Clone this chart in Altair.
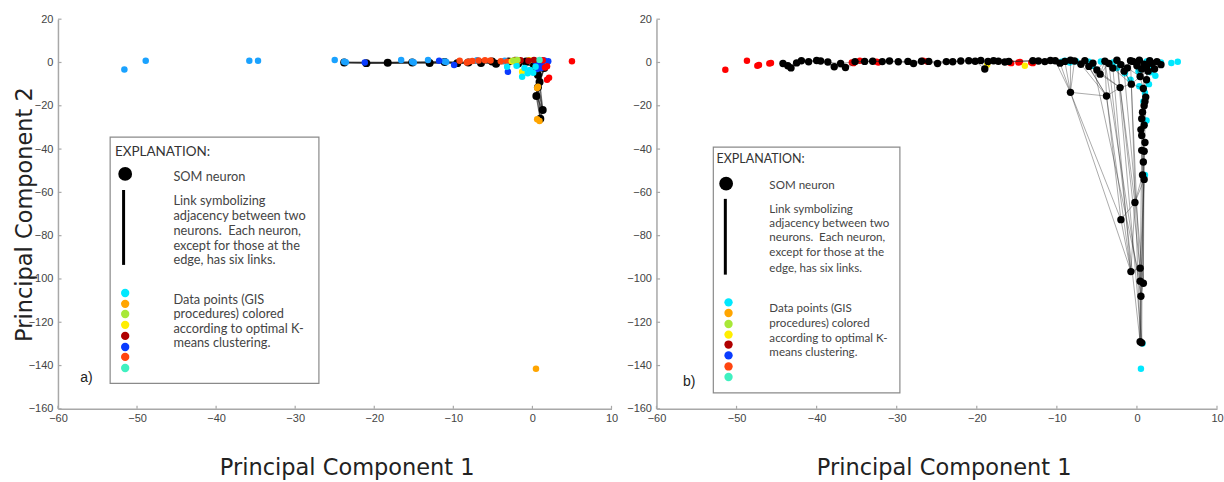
import altair as alt
import pandas as pd

# ---------------- axes ----------------
X_TICKS = [-60, -50, -40, -30, -20, -10, 0, 10]
Y_TICKS = [-160, -140, -120, -100, -80, -60, -40, -20, 0, 20]

CLUSTERS = ["cyan", "orange", "yellowgreen", "yellow", "darkred", "blue",
            "orangered", "aquamarine", "skyblue", "red"]
CLUSTER_COLORS = ["#00e8ff", "#ffa500", "#a8e838", "#ffee00", "#b00000", "#0a3cff",
                  "#ff4510", "#40f0c0", "#1aa2ff", "#ff0000"]
LEGEND_DOT_CLUSTERS = ["cyan", "orange", "yellowgreen", "yellow", "darkred",
                       "blue", "orangered", "aquamarine"]

LINK_TEXT = ["Link symbolizing", "adjacency between two", "neurons.\u00a0 Each neuron,",
             "except for those at the", "edge, has six links."]
DATA_TEXT = ["Data points (GIS", "procedures) colored", "according to optimal K-",
             "means clustering."]

# ---------------- panel a ----------------
A_NEURON_X = [-23.8, -21.0, -18.3, -15.2, -13.0, -11.1, -9.5, -8.1, -6.5, -5.1, -4.6,
              -3.0, -1.8, -0.8, 0.2, 1.0, 1.5, 0.7, 0.9, 0.7, 0.5, 1.3, 1.0]
A_NEURON_Y = [0.0, -0.3, -0.1, 0.0, -0.2, 0.2, -0.3, 0.0, -0.2, 0.4, -0.6,
              0.5, -0.5, 0.5, -1.5, 0.2, -2.5, -5.8, -9.0, -11.5, -15.5, -22.0, -26.0]
A_EXTRA_LINKS = [(12, 15), (13, 16), (14, 17), (15, 18), (16, 19), (17, 20), (18, 21),
                 (19, 22), (9, 12), (11, 14), (0, 3), (2, 5), (4, 7), (6, 9)]
A_PTS_X = [-51.6, -48.9, -35.8, -34.7, -25.0, -23.8, -23.6, -16.6, -15.2, -15.0, -13.2,
           -11.1, -10.9, -7.0, -3.5, -2.0,
           -21.2, -11.8, -9.9, -3.1, 0.3, 0.8, 1.2, 1.5, 2.0, 0.9, 0.6, 1.1,
           -8.1, -8.3, -7.6, -6.8, -6.0, -5.3, -4.0, -9.2, -3.2,
           0.7, 0.6, 0.9, 0.6, 0.45, -1.8,
           -2.6, -1.3, -0.4,
           -3.2, -1.3, -1.0, -0.3, 0.1, -0.6, -2.0, 0.4,
           5.0, 1.85, 1.6, 1.85, 2.1, 1.3,
           -1.5, -0.5, 0.2, -2.2,
           -1.9, -2.4,
           0.9]
A_PTS_Y = [-3.2, 0.8, 0.8, 0.8, 1.1, 0.3, 0.1, 1.1, 0.3, 0.0, 1.1,
           0.5, 0.2, 1.0, 0.8, 1.2,
           0.0, 0.8, -1.2, -4.3, 0.8, 0.5, -0.5, 0.9, 0.6, -1.5, -3.0, -2.5,
           0.3, 0.0, 0.7, 0.9, 1.0, 0.9, 0.6, 0.8, 0.4,
           -11.2, -11.8, -27.0, -26.2, -141.5, 0.5,
           0.6, -4.3, 1.0,
           -2.0, -6.6, -2.5, -3.5, -4.8, -5.0, -1.5, -2.0,
           0.6, -1.7, -2.3, -8.0, -7.0, 1.0,
           1.0, 0.8, 1.2, 1.2,
           1.2, 0.9,
           1.2]
A_PTS_C = (["skyblue"] * 16 + ["blue"] * 12 + ["orangered"] * 9 + ["orange"] * 6 +
           ["yellow"] * 3 + ["cyan"] * 8 + ["red"] * 6 + ["darkred"] * 4 +
           ["yellowgreen"] * 2 + ["aquamarine"])

# ---------------- panel b ----------------
# neurons along the horizontal band (sorted by PC1)
B_BAND_X = [-44.2, -43.6, -43.2, -42.5, -41.9, -41.0, -40.0, -39.5, -38.6, -37.8,
            -37.0, -36.4, -35.2, -34.0, -33.0, -31.8, -30.9, -29.8, -28.6, -27.9,
            -26.9, -26.0, -24.9, -23.8, -23.0, -22.0, -21.0, -20.2, -19.5, -19.0,
            -18.6, -17.9, -17.3, -16.5, -16.0, -13.0, -12.3, -11.5, -10.8, -10.2,
            -9.6, -9.0, -8.3, -7.8, -7.0, -6.5, -6.0, -5.5, -5.0, -4.6,
            -4.0, -3.5, -3.0, -2.5, -2.0, -1.6, -1.2, -0.8, -0.5, 0.0,
            0.3, 0.6, 0.9, 1.2, 1.6, 1.9, 2.2, 2.5, 3.0]
B_BAND_Y = [-0.5, -1.5, -2.5, -0.2, 0.8, 0.3, 0.9, 0.7, 0.2, -2.0,
            -0.5, -2.3, 0.4, 0.5, 0.6, 0.4, 0.7, 0.3, 0.5, -0.5,
            0.6, 0.5, -0.5, 0.4, 0.3, 0.7, 0.8, 0.6, 0.9, -3.0,
            0.5, 0.8, 0.6, 0.2, 0.5, 0.8, 0.7, 0.4, 0.9, 0.8,
            -0.3, 0.5, 1.0, 0.7, -0.8, 0.8, -1.8, -0.3, -3.5, -5.4,
            0.6, -0.5, -2.6, 1.0, -1.0, -4.0, -2.5, 0.8, 0.5, -1.5,
            1.0, -3.0, -0.8, -2.0, 0.8, -0.5, -3.0, 0.4, -1.0]
# neurons below the band (spike towards PC2 = -130)
B_SPIKE_X = [-8.3, -3.8, -2.1, -0.7, 0.4, 0.8, 1.1, 0.9, 0.7, 0.6,
             0.9, 0.6, 0.6, 0.9, 0.7, 0.9, -0.25, -2.0, -0.75, 0.4,
             0.4, 0.8, 0.5, 0.4, 0.6, 1.0, 0.5, 1.0, 0.8, 1.2, 1.4]
B_SPIKE_Y = [-13.8, -15.5, -11.6, -10.0, -6.5, -12.0, -16.0, -20.0, -23.0, -26.0,
             -29.0, -33.7, -40.6, -41.0, -52.0, -54.0, -64.7, -72.6, -96.6, -95.0,
             -101.0, -102.0, -108.0, -129.0, -129.5, -18.0, -31.0, -37.0, -46.0, -8.0, -4.0]
B_SPIKE_LINKS = [(4, 29), (29, 5), (5, 6), (6, 25), (25, 7), (7, 8), (8, 9), (9, 10),
                 (10, 26), (26, 11), (11, 27), (27, 12), (12, 13), (13, 28), (28, 14),
                 (14, 15), (15, 16), (16, 17), (17, 18), (18, 19), (19, 20), (20, 21),
                 (21, 22), (22, 23), (23, 24), (0, 1), (1, 2), (2, 3), (3, 4), (3, 5),
                 (0, 17), (0, 18), (1, 17), (1, 18), (2, 16), (2, 19), (3, 20), (5, 21),
                 (6, 22), (14, 16), (15, 19), (12, 20), (13, 21), (16, 18), (14, 24),
                 (15, 23), (19, 23), (20, 24), (4, 30), (30, 29), (11, 14), (12, 15),
                 (9, 13), (8, 11)]
# links from band neurons (first index) to spike neurons (second index)
B_FAN_LINKS = [(40, 0), (41, 0), (42, 0), (44, 1), (46, 1), (48, 2), (49, 2), (50, 1),
               (52, 3), (54, 3), (56, 4), (58, 4), (59, 5), (61, 6), (63, 29), (64, 30),
               (65, 4), (55, 3), (53, 2), (47, 20), (50, 22), (51, 23), (53, 24),
               (55, 21), (57, 23), (52, 18), (45, 1), (43, 0), (39, 0)]
B_PTS_X = [-51.4, -48.7, -47.4, -47.2, -45.9, -45.7, -35.6, -35.4, -34.6, -32.5,
           -32.3, -26.7, -26.2, -15.9, -15.7, -14.8, -14.6, -13.2, -13.0,
           -18.7, -14.0,
           -9.4, -9.0, -8.4, -7.6, -6.0, -4.5, -3.0, -1.5, -0.8, 0.2,
           1.0, 1.2, 2.0, 2.3, 1.7, 3.0, 5.1, 4.3, 1.2, 0.9,
           1.0, 0.7, 0.5, 0.3, 1.5, -2.5, -5.5, 0.8, 1.0]
B_PTS_Y = [-3.4, 0.8, -1.5, -1.2, -0.5, -0.2, 0.0, -0.3, 0.8, 0.3,
           0.0, 0.8, 0.5, 0.0, -0.3, 0.0, 0.2, 0.0, -0.3,
           -1.0, -1.5,
           0.3, 0.8, 0.0, 0.6, 0.4, 0.5, 0.0, -5.0, -8.0, -4.0,
           -2.5, 0.5, -3.0, -6.1, -4.5, 0.0, 0.3, -0.2, -26.8, -28.0,
           -52.0, -129.8, -141.5, -11.0, -10.0, -2.5, -1.5, -18.0, -14.0]
B_PTS_C = ["red"] * 19 + ["yellow"] * 2 + ["cyan"] * 29

# ---------------- legend layout (data coordinates of each panel) ----------------
A_LEG = dict(box=(-53.4, -27.0, -34.5, -148.2), head=(-52.8, -41.4),
             big=(-51.5, -51.5), som=(-45.4, -52.9), bar=(-51.7, -58.9, -93.5),
             link_y=[-64.0, -70.9, -77.8, -84.7, -91.2], text_x=-45.4,
             dot_x=-51.5, dot_y=[-106.5, -111.5, -116.2, -121.2, -126.3, -131.4, -136.0, -141.1],
             data_y=[-109.7, -116.4, -123.1, -129.8], tag=(-56.4, -145.7, "a)"),
             head_size=13.5, text_size=12.8)
B_LEG = dict(box=(-52.9, -29.6, -39.1, -152.6), head=(-52.5, -44.6),
             big=(-51.3, -56.0), som=(-45.9, -57.1), bar=(-51.4, -63.0, -98.0),
             link_y=[-68.2, -74.8, -81.3, -88.1, -95.3], text_x=-45.9,
             dot_x=-51.0, dot_y=[-110.8, -115.7, -120.8, -125.7, -130.3, -135.3, -140.4, -145.3],
             data_y=[-114.1, -120.8, -127.5, -134.1], tag=(-55.9, -147.6, "b)"),
             head_size=12.5, text_size=11.6)

XS = alt.Scale(domain=[-60, 10], nice=False, zero=False)
YS = alt.Scale(domain=[-160, 20], nice=False, zero=False)
CS = alt.Scale(domain=CLUSTERS, range=CLUSTER_COLORS)
AXIS_COMMON = dict(grid=False, ticks=False, domainColor="#a8a8a8", domainWidth=1.5,
                   labelFont="Liberation Sans", labelFontSize=11, labelColor="#444",
                   titleFont="DejaVu Sans", titleFontSize=22.5, titleFontWeight="normal",
                   titleColor="#222")


def panel(nx, ny, links, px, py, pc, leg, width, ytitle, neurons_on_top, xtitle_shift,
          link_width, link_opacity, neuron_size):
    xaxis = alt.Axis(values=X_TICKS, title="Principal Component 1", labelPadding=4,
                     titlePadding=33, labelFlush=False, titleX=width / 2 + xtitle_shift,
                     **AXIS_COMMON)
    if ytitle:
        yaxis = alt.Axis(values=Y_TICKS, title="Principal Component 2", labelPadding=5,
                         titlePadding=-8, labelFlush=False, **AXIS_COMMON)
    else:
        yaxis = alt.Axis(values=Y_TICKS, title=None, labelPadding=5,
                         labelFlush=False, **AXIS_COMMON)
    X = alt.X("x:Q", scale=XS, axis=xaxis)
    Y = alt.Y("y:Q", scale=YS, axis=yaxis)

    neurons = pd.DataFrame({"x": nx, "y": ny})
    link_df = pd.DataFrame({"x": [nx[a] for a, b in links], "y": [ny[a] for a, b in links],
                            "x2": [nx[b] for a, b in links], "y2": [ny[b] for a, b in links]})
    pts = pd.DataFrame({"x": px, "y": py, "c": pc})

    link_layer = alt.Chart(link_df).mark_rule(color="#222", strokeWidth=link_width,
                                              opacity=link_opacity).encode(
        x=X, y=Y, x2="x2:Q", y2="y2:Q")
    neuron_layer = alt.Chart(neurons).mark_circle(color="black", size=neuron_size, opacity=1).encode(
        x=X, y=Y)
    pt_layer = alt.Chart(pts).mark_circle(size=42, opacity=1).encode(
        x=X, y=Y, color=alt.Color("c:N", scale=CS, legend=None))

    xt = pd.DataFrame({"x": X_TICKS, "y": [-160] * len(X_TICKS), "y2": [-158.6] * len(X_TICKS)})
    yt = pd.DataFrame({"y": Y_TICKS, "x": [-60] * len(Y_TICKS), "x2": [-59.55] * len(Y_TICKS)})
    xtick = alt.Chart(xt).mark_rule(color="#a8a8a8", strokeWidth=1.2).encode(x=X, y=Y, y2="y2:Q")
    ytick = alt.Chart(yt).mark_rule(color="#a8a8a8", strokeWidth=1.2).encode(x=X, y=Y, x2="x2:Q")

    b = leg["box"]
    box = alt.Chart(pd.DataFrame({"x": [b[0]], "x2": [b[1]], "y": [b[2]], "y2": [b[3]]})).mark_rect(
        fill="white", stroke="#8a8a8a", strokeWidth=1.2).encode(x=X, x2="x2:Q", y=Y, y2="y2:Q")
    head = alt.Chart(pd.DataFrame({"x": [leg["head"][0]], "y": [leg["head"][1]], "t": ["EXPLANATION:"]})).mark_text(
        align="left", baseline="middle", font="Lato", fontSize=leg["head_size"], color="#333").encode(
        x=X, y=Y, text="t:N")
    big = alt.Chart(pd.DataFrame({"x": [leg["big"][0]], "y": [leg["big"][1]]})).mark_circle(
        color="black", size=190, opacity=1).encode(x=X, y=Y)
    bar = alt.Chart(pd.DataFrame({"x": [leg["bar"][0]], "y": [leg["bar"][1]], "y2": [leg["bar"][2]]})).mark_rule(
        color="black", strokeWidth=3).encode(x=X, y=Y, y2="y2:Q")
    texts = pd.DataFrame({
        "x": [leg["som"][0]] + [leg["text_x"]] * (len(LINK_TEXT) + len(DATA_TEXT)),
        "y": [leg["som"][1]] + leg["link_y"] + leg["data_y"],
        "t": ["SOM neuron"] + LINK_TEXT + DATA_TEXT})
    txt = alt.Chart(texts).mark_text(align="left", baseline="middle", font="Lato",
                                     fontSize=leg["text_size"], color="#444").encode(
        x=X, y=Y, text="t:N")
    dots = alt.Chart(pd.DataFrame({"x": [leg["dot_x"]] * len(LEGEND_DOT_CLUSTERS), "y": leg["dot_y"],
                                   "c": LEGEND_DOT_CLUSTERS})).mark_circle(size=70, opacity=1).encode(
        x=X, y=Y, color=alt.Color("c:N", scale=CS, legend=None))
    tg = leg["tag"]
    tag = alt.Chart(pd.DataFrame({"x": [tg[0]], "y": [tg[1]], "t": [tg[2]]})).mark_text(
        align="center", baseline="middle", font="Liberation Sans", fontSize=14, color="#222").encode(
        x=X, y=Y, text="t:N")

    if neurons_on_top:
        core = [pt_layer, link_layer, neuron_layer]
    else:
        core = [link_layer, neuron_layer, pt_layer]
    return alt.layer(*core, xtick, ytick, box, head, big, bar, txt, dots, tag).properties(
        width=width, height=390)


# panel a topology: chain plus second neighbours plus a few extra links
a_links = ([(i, i + 1) for i in range(len(A_NEURON_X) - 1)] +
           [(i, i + 2) for i in range(len(A_NEURON_X) - 2)] + A_EXTRA_LINKS)

# panel b: band neurons followed by spike neurons
nb = len(B_BAND_X)
b_nx = B_BAND_X + B_SPIKE_X
b_ny = B_BAND_Y + B_SPIKE_Y
b_links = ([(i, i + 1) for i in range(nb - 1)] + [(i, i + 2) for i in range(nb - 2)] +
           [(a + nb, b + nb) for a, b in B_SPIKE_LINKS] + [(a, b + nb) for a, b in B_FAN_LINKS])

pa = panel(A_NEURON_X, A_NEURON_Y, a_links, A_PTS_X, A_PTS_Y, A_PTS_C, A_LEG, 554, True, False,
           12, 1.4, 0.7, 64)
pb = panel(b_nx, b_ny, b_links, B_PTS_X, B_PTS_Y, B_PTS_C, B_LEG, 561, False, True,
           7, 0.7, 0.55, 55)

chart = alt.hconcat(pa, pb, spacing=8).properties(
    padding={"left": 13, "top": 13, "right": 0, "bottom": 0},
    background="white").configure_view(stroke=None)

chart.save("out.html", embed_options={"renderer": "svg", "actions": False})
